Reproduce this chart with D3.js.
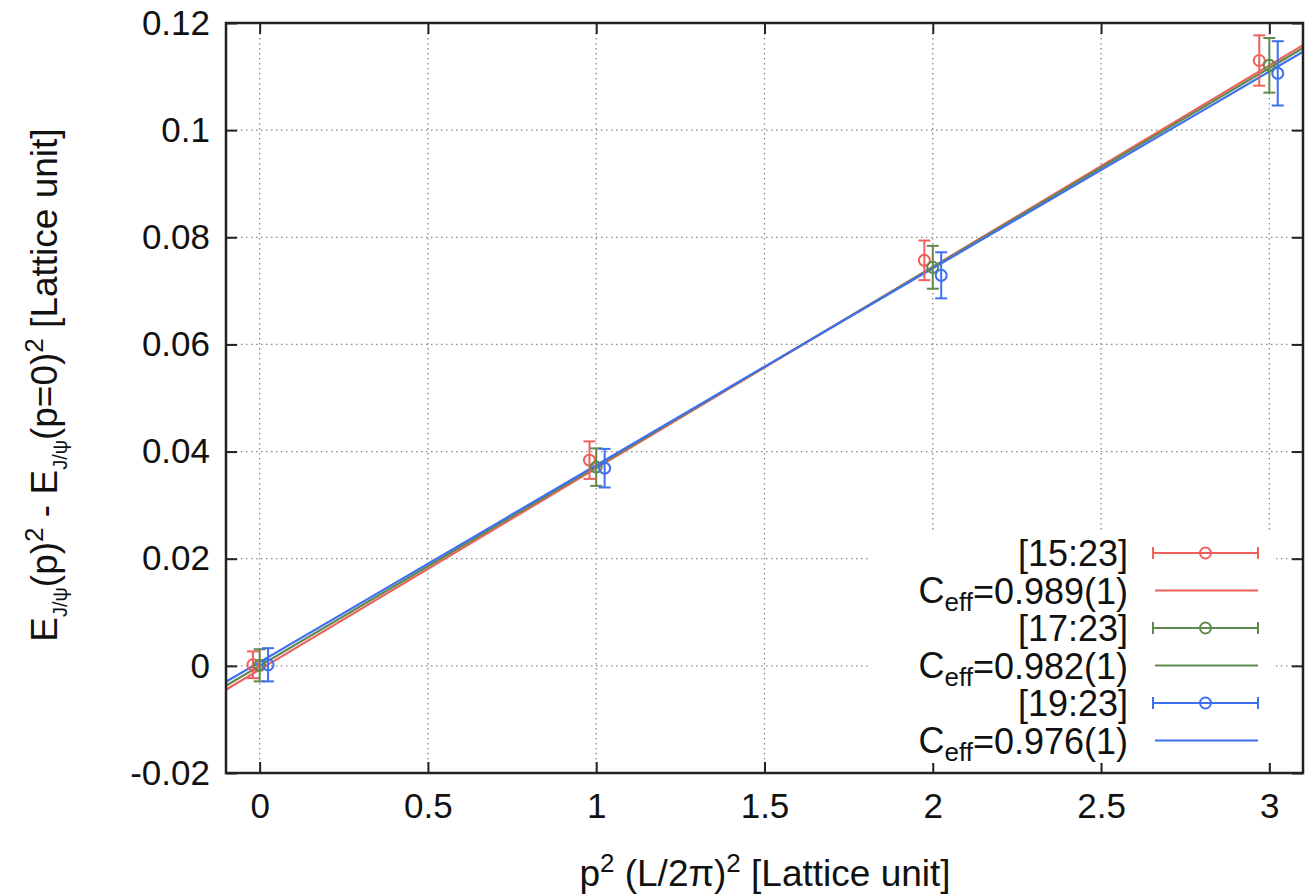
<!doctype html>
<html>
<head>
  <meta charset='utf-8'>
  <style>
    body { margin: 0; background: #fff; }
    text { font-family: 'Liberation Sans', Arial, Helvetica, sans-serif; fill: #111; }
    .grid line { stroke: #888; stroke-width: 1.3; stroke-dasharray: 1.5 3.5; }
  </style>
</head>
<body>
  <svg width='1309' height='894'></svg>
  <script src='https://d3js.org/d3.v7.min.js'></script>
  <script>
    // data
    var seriesNames = ['[15:23]', '[17:23]', '[19:23]'];
    var ceffLabels = ['0.989(1)', '0.982(1)', '0.976(1)'];
    var x15 = [-0.02, 0.98, 1.975, 2.97];
    var x17 = [0, 1, 2, 3];
    var x19 = [0.025, 1.025, 2.025, 3.025];
    var y15 = [0.0002, 0.0384, 0.0757, 0.1130];
    var e15 = [0.0025, 0.0035, 0.0037, 0.0047];
    var y17 = [0.0001, 0.0371, 0.0744, 0.1121];
    var e17 = [0.0030, 0.0035, 0.0040, 0.0051];
    var y19 = [0.0002, 0.0369, 0.0729, 0.1106];
    var e19 = [0.0031, 0.0036, 0.0043, 0.0060];
    // fit lines y = slope * x + intercept
    var fitSlope = [0.0376, 0.0372, 0.03675];
    var fitIntercept = [-0.0007, 0.0, 0.0007];
    var xTicks = [0, 0.5, 1, 1.5, 2, 2.5, 3];
    var yTicks = [-0.02, 0, 0.02, 0.04, 0.06, 0.08, 0.1, 0.12];

    var colors = ['#f0605a', '#5f8a4e', '#3f6ff2'];

    var svg = d3.select('svg');
    var mLeft = 226, mRight = 1303, mTop = 23, mBottom = 773;

    var x = d3.scaleLinear().domain([-0.1, 3.1]).range([mLeft, mRight]);
    var y = d3.scaleLinear().domain([-0.02, 0.12]).range([mBottom, mTop]);

    // grid
    var grid = svg.append('g').attr('class', 'grid');
    grid.selectAll('.gx').data(xTicks).enter().append('line')
        .attr('x1', function(d) { return x(d); }).attr('x2', function(d) { return x(d); })
        .attr('y1', mTop).attr('y2', mBottom);
    grid.selectAll('.gy').data(yTicks.slice(1, -1)).enter().append('line')
        .attr('y1', function(d) { return y(d); }).attr('y2', function(d) { return y(d); })
        .attr('x1', mLeft).attr('x2', mRight);

    // axes with inward ticks on all sides
    var fmt = function(d) { return String(+d.toFixed(2)); };
    var axL = svg.append('g').attr('transform', 'translate(' + mLeft + ',0)')
        .call(d3.axisLeft(y).tickValues(yTicks).tickSizeInner(-11).tickSizeOuter(0).tickPadding(16).tickFormat(fmt));
    var axB = svg.append('g').attr('transform', 'translate(0,' + mBottom + ')')
        .call(d3.axisBottom(x).tickValues(xTicks).tickSizeInner(-11).tickSizeOuter(0).tickPadding(20).tickFormat(fmt));
    var axR = svg.append('g').attr('transform', 'translate(' + mRight + ',0)')
        .call(d3.axisRight(y).tickValues(yTicks).tickSizeInner(-11).tickSizeOuter(0).tickFormat(''));
    var axT = svg.append('g').attr('transform', 'translate(0,' + mTop + ')')
        .call(d3.axisTop(x).tickValues(xTicks).tickSizeInner(-11).tickSizeOuter(0).tickFormat(''));
    [axL, axB, axR, axT].forEach(function(a) {
      a.select('.domain').remove();
      a.selectAll('line').attr('stroke', '#222').attr('stroke-width', 2);
      a.selectAll('text').attr('font-size', 35).attr('fill', '#111');
    });

    // fit lines
    var fits = svg.append('g');
    fitSlope.forEach(function(s, i) {
      var f = function(v) { return s * v + fitIntercept[i]; };
      fits.append('line')
          .attr('x1', x(-0.1)).attr('y1', y(f(-0.1)))
          .attr('x2', x(3.1)).attr('y2', y(f(3.1)))
          .attr('stroke', colors[i]).attr('stroke-width', 2.2);
    });

    // points with error bars
    var sets = [[x15, y15, e15], [x17, y17, e17], [x19, y19, e19]];
    var cap = 6;
    sets.forEach(function(s, i) {
      var g = svg.append('g').attr('stroke', colors[i]).attr('stroke-width', 2).attr('fill', 'none');
      s[0].forEach(function(xv, j) {
        var cx = x(xv), cy = y(s[1][j]);
        var y1 = y(s[1][j] + s[2][j]), y2 = y(s[1][j] - s[2][j]);
        g.append('line').attr('x1', cx).attr('x2', cx).attr('y1', y1).attr('y2', y2);
        g.append('line').attr('x1', cx - cap).attr('x2', cx + cap).attr('y1', y1).attr('y2', y1);
        g.append('line').attr('x1', cx - cap).attr('x2', cx + cap).attr('y1', y2).attr('y2', y2);
        g.append('circle').attr('cx', cx).attr('cy', cy).attr('r', 5.5);
      });
    });

    // legend
    var leg = svg.append('g');
    leg.append('rect').attr('x', 870).attr('y', 533).attr('width', 406).attr('height', 230).attr('fill', '#fff');
    var rowY = 553, rowStep = 37.5, textX = 1128, s1 = 1153, s2 = 1258;
    seriesNames.forEach(function(name, i) {
      var ya = rowY + rowStep * 2 * i, yb = ya + rowStep;
      leg.append('text').attr('x', textX).attr('y', ya).attr('dy', '0.36em')
         .attr('text-anchor', 'end').attr('font-size', 36).text(name);
      var t = leg.append('text').attr('x', textX).attr('y', yb).attr('dy', '0.36em')
         .attr('text-anchor', 'end').attr('font-size', 36);
      t.append('tspan').text('C');
      t.append('tspan').attr('font-size', 26).attr('dy', '0.3em').text('eff');
      t.append('tspan').attr('dy', '-0.21em').text('=' + ceffLabels[i]);
      var g = leg.append('g').attr('stroke', colors[i]).attr('stroke-width', 2).attr('fill', 'none');
      g.append('line').attr('x1', s1).attr('x2', s2).attr('y1', ya).attr('y2', ya);
      g.append('line').attr('x1', s1).attr('x2', s1).attr('y1', ya - 6).attr('y2', ya + 6);
      g.append('line').attr('x1', s2).attr('x2', s2).attr('y1', ya - 6).attr('y2', ya + 6);
      g.append('circle').attr('cx', (s1 + s2) / 2).attr('cy', ya).attr('r', 5.5);
      leg.append('line').attr('x1', s1 + 2).attr('x2', s2).attr('y1', yb).attr('y2', yb)
         .attr('stroke', colors[i]).attr('stroke-width', 2.2);
    });

    // frame
    svg.append('rect').attr('x', mLeft).attr('y', mTop).attr('width', mRight - mLeft).attr('height', mBottom - mTop)
       .attr('fill', 'none').attr('stroke', '#222').attr('stroke-width', 2.5);

    // axis titles
    var xl = svg.append('text').attr('x', 765).attr('y', 886).attr('text-anchor', 'middle').attr('font-size', 37);
    xl.append('tspan').text('p');
    xl.append('tspan').attr('font-size', 26).attr('dy', '-0.55em').text('2');
    xl.append('tspan').attr('dy', '0.39em').text(' (L/2\u03c0)');
    xl.append('tspan').attr('font-size', 26).attr('dy', '-0.55em').text('2');
    xl.append('tspan').attr('dy', '0.39em').text(' [Lattice unit]');

    var yl = svg.append('text').attr('transform', 'translate(57,385) rotate(-90)')
                .attr('text-anchor', 'middle').attr('font-size', 37);
    yl.append('tspan').text('E');
    yl.append('tspan').attr('font-size', 20).attr('dy', '0.5em').text('J/\u03c8');
    yl.append('tspan').attr('dy', '-0.27em').text('(p)');
    yl.append('tspan').attr('font-size', 26).attr('dy', '-0.55em').text('2');
    yl.append('tspan').attr('dy', '0.39em').text(' - E');
    yl.append('tspan').attr('font-size', 20).attr('dy', '0.5em').text('J/\u03c8');
    yl.append('tspan').attr('dy', '-0.27em').text('(p=0)');
    yl.append('tspan').attr('font-size', 26).attr('dy', '-0.55em').text('2');
    yl.append('tspan').attr('dy', '0.39em').text(' [Lattice unit]');
  </script>
</body>
</html>
